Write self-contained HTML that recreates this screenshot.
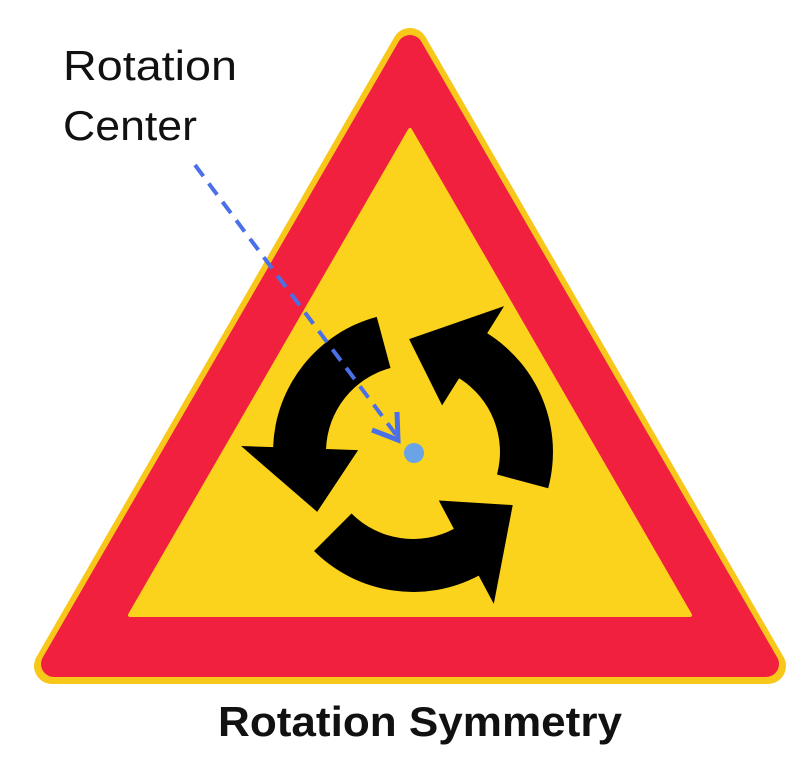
<!DOCTYPE html>
<html><head><style>
html,body{margin:0;padding:0;background:#fff;}
svg{display:block;}
</style></head><body>
<svg width="810" height="768" viewBox="0 0 810 768" xmlns="http://www.w3.org/2000/svg">
<rect width="810" height="768" fill="#fff"/>
<polygon points="410,46 52,666 768,666" fill="#f7c81a" stroke="#f7c81a" stroke-width="36" stroke-linejoin="round"/>
<polygon points="410,48 54,664 766,664" fill="#f2203f" stroke="#f2203f" stroke-width="26" stroke-linejoin="round"/>
<polygon points="410,130 130,615 690,615" fill="#fbd21c" stroke="#fbd21c" stroke-width="4" stroke-linejoin="round"/>
<g transform="translate(413,452)" fill="#000">
<path d="M 135.2 36.2 A 140 140 0 0 0 74.2 -118.7 L 91.1 -145.9 L -3.9 -112.9 L 29.1 -46.6 L 46.1 -73.8 A 87 87 0 0 1 84.0 22.5 Z"/>
<path transform="rotate(-120)" d="M 135.2 36.2 A 140 140 0 0 0 74.2 -118.7 L 91.1 -145.9 L -3.9 -112.9 L 29.1 -46.6 L 46.1 -73.8 A 87 87 0 0 1 84.0 22.5 Z"/>
<path transform="rotate(-240)" d="M 135.2 36.2 A 140 140 0 0 0 74.2 -118.7 L 91.1 -145.9 L -3.9 -112.9 L 29.1 -46.6 L 46.1 -73.8 A 87 87 0 0 1 84.0 22.5 Z"/>
</g>
<line x1="195" y1="165" x2="397" y2="436" stroke="#4a6fe8" stroke-width="4" stroke-dasharray="14,9"/>
<polyline points="372,430 398,440 397,412" fill="none" stroke="#4a6fe8" stroke-width="5"/>
<circle cx="414" cy="453" r="10" fill="#6aa3e6"/>
<text x="63" y="80" font-family="Liberation Sans, sans-serif" font-size="42" fill="#111" textLength="174" lengthAdjust="spacingAndGlyphs">Rotation</text>
<text x="63" y="140" font-family="Liberation Sans, sans-serif" font-size="42" fill="#111" textLength="134" lengthAdjust="spacingAndGlyphs">Center</text>
<text x="218" y="736" font-family="Liberation Sans, sans-serif" font-weight="bold" font-size="42" fill="#111" textLength="404" lengthAdjust="spacingAndGlyphs">Rotation Symmetry</text>
</svg>
</body></html>
